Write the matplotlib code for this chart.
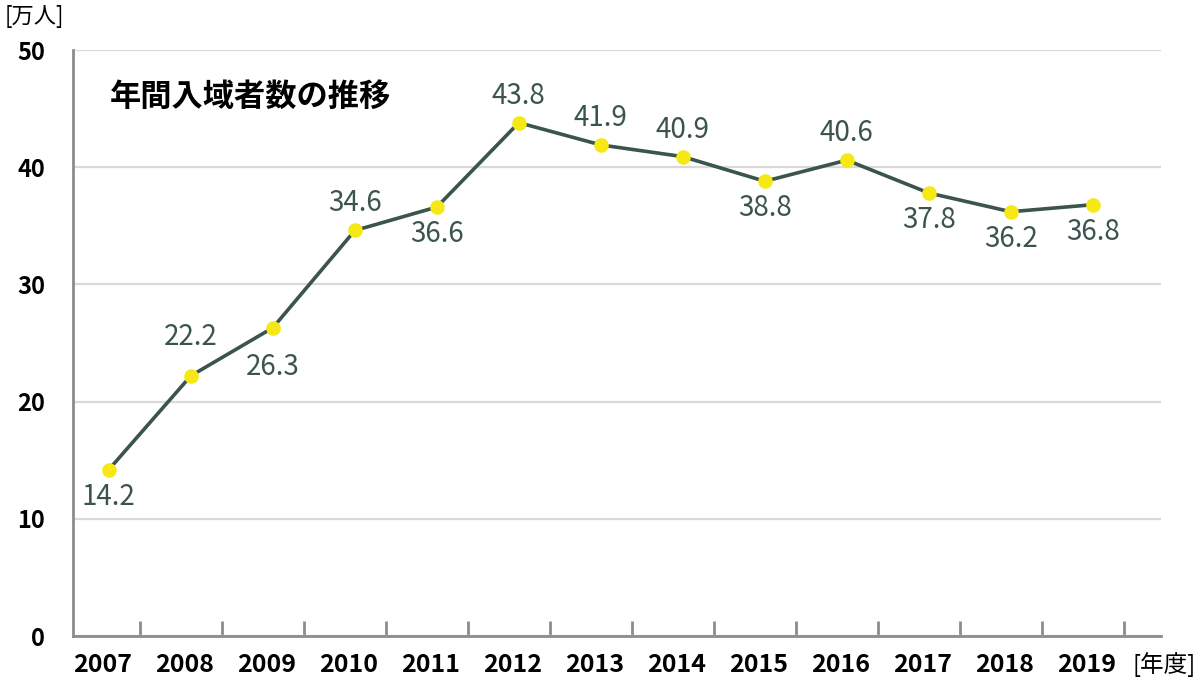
import numpy as np
import matplotlib
matplotlib.use('Agg')
import matplotlib.pyplot as plt

plt.rcParams['font.family'] = ['Noto Sans CJK JP', 'DejaVu Sans']

# データ
years = ['2007', '2008', '2009', '2010', '2011', '2012', '2013',
         '2014', '2015', '2016', '2017', '2018', '2019']
visitors = [14.2, 22.2, 26.3, 34.6, 36.6, 43.8, 41.9, 40.9, 38.8, 40.6, 37.8, 36.2, 36.8]
# 数値ラベルの位置 (1=上, -1=下)
label_side = [-1, 1, -1, 1, -1, 1, 1, 1, -1, 1, -1, -1, -1]

line_color = '#3b544f'
dot_color = '#f5e814'
axis_color = '#8c8c8c'
grid_color = '#d9d9d9'

fig = plt.figure(figsize=(12, 6.88), dpi=100)
ax = fig.add_axes([73/1200, 52/688, 1088/1200, 586/688])

idx = np.arange(len(years))
xp = idx + 0.12  # 点の位置

ax.plot(xp, visitors, color=line_color, lw=2.6, zorder=3)
ax.plot(xp, visitors, 'o', color=dot_color, ms=10.5, mec='none', zorder=4)

# 数値ラベル
for x, v, s in zip(xp, visitors, label_side):
    off = 19.5 if abs(v - 24) > 3 else 28
    ax.annotate(f'{v:.1f}', (x, v), xytext=(0, s * off), textcoords='offset points',
                ha='center', va='center', fontsize=20, color=line_color)

ax.set_xlim(-0.317, 12.951)
ax.set_ylim(0, 50)

# 目盛り
ax.set_yticks([0, 10, 20, 30, 40, 50])
ax.set_yticklabels(['0', '10', '20', '30', '40', '50'], fontsize=17, fontweight='bold')
ax.tick_params(axis='y', length=0, pad=20)
ax.set_xticks(idx + 0.5)
ax.set_xticklabels([])
ax.tick_params(axis='x', direction='in', length=11, width=2, color=axis_color)
for x, y in zip(idx + 0.04, years):
    ax.text(x, -0.05, y, transform=ax.get_xaxis_transform(), ha='center', va='center',
            fontsize=18, fontweight='bold')

ax.grid(axis='y', color=grid_color, lw=1.6)
ax.set_axisbelow(True)
for sp in ['top', 'right']:
    ax.spines[sp].set_visible(False)
for sp in ['left', 'bottom']:
    ax.spines[sp].set_color(axis_color)
    ax.spines[sp].set_linewidth(2)

ax.text(0.034, 0.92, '年間入域者数の推移', transform=ax.transAxes, ha='left', va='center',
        fontsize=22.5, fontweight='bold')
fig.text(5/1200, 1 - 17/688, '[万人]', ha='left', va='center', fontsize=16)
fig.text(1196/1200, 1 - 665/688, '[年度]', ha='right', va='center', fontsize=17)

plt.savefig('out.png', dpi=100)
plt.close()
